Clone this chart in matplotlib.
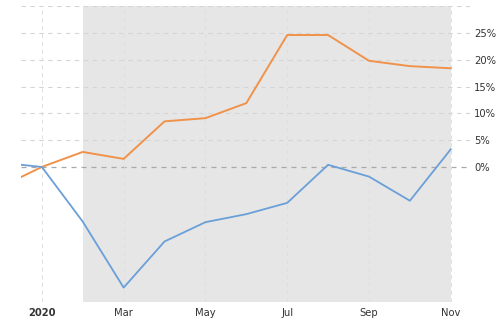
import matplotlib.pyplot as plt

# months: Dec 2019 (-1) .. Nov 2020 (10)
months = list(range(-1, 11))
orange = [-3.7, 0.0, 2.8, 1.5, 8.5, 9.1, 11.9, 24.6, 24.6, 19.8, 18.8, 18.4]
blue = [0.8, 0.0, -10.2, -22.5, -13.9, -10.3, -8.8, -6.7, 0.4, -1.8, -6.3, 3.3]
tick_pos = [0, 2, 4, 6, 8, 10]
tick_labels = ["2020", "Mar", "May", "Jul", "Sep", "Nov"]
y_ticks = [0, 5, 10, 15, 20, 25]
shade_start, shade_end = 1, 10

fig = plt.figure(figsize=(5, 3.2), dpi=100)
ax = fig.add_axes([0.042, 0.056, 0.898, 0.925])

ax.axvspan(shade_start, shade_end, color="#e6e6e6", lw=0, zorder=0)

# grid
for y in y_ticks[1:] + [30]:
    ax.axhline(y, color="#d4d4d4", lw=0.8, ls=(0, (4, 4)), zorder=1)
ax.axhline(0, color="#a8a8a8", lw=0.9, ls=(0, (4, 4)), zorder=1)
for x in tick_pos:
    ax.axvline(x, color="#dedede", lw=0.7, ls=(0, (4, 4)), zorder=1)

ax.plot(months, orange, color="#f0924a", lw=1.4, zorder=3)
ax.plot(months, blue, color="#6a9fd8", lw=1.3, zorder=3)

ax.set_xlim(-0.51, 10.47)
ax.set_ylim(-25.2, 30)

for s in ax.spines.values():
    s.set_visible(False)

ax.set_xticks(tick_pos)
ax.set_xticklabels(tick_labels, fontsize=7.2, color="#333333")
ax.get_xticklabels()[0].set_fontweight("bold")
ax.tick_params(axis="x", length=0, pad=4)

ax.yaxis.tick_right()
ax.set_yticks(y_ticks)
ax.set_yticklabels([f"{v}%" for v in y_ticks], fontsize=7.2, color="#333333")
ax.tick_params(axis="y", length=0, pad=3)

fig.savefig("out.png", dpi=100)
